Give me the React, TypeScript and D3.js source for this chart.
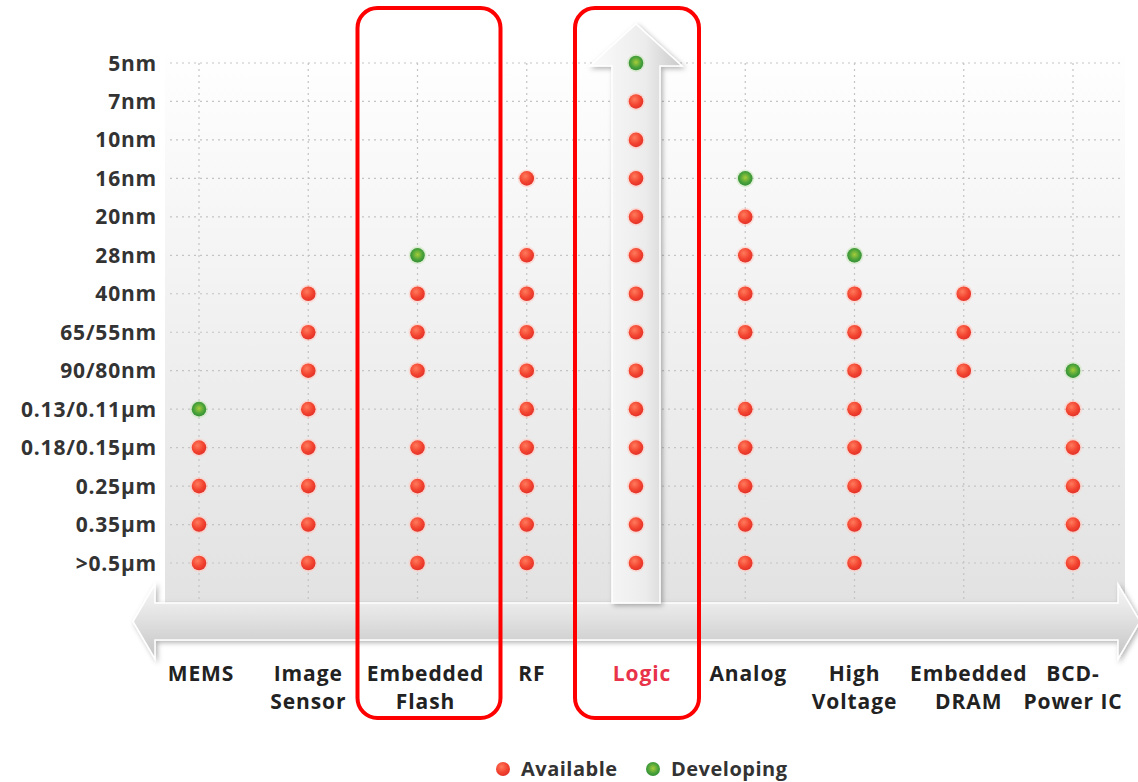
import React, { useEffect } from "react";
import * as d3 from "d3";

const categories = ["MEMS", "Image Sensor", "Embedded Flash", "RF", "Logic", "Analog", "High Voltage", "Embedded DRAM", "BCD-Power IC"];
const categoryLines = [["MEMS"], ["Image", "Sensor"], ["Embedded", "Flash"], ["RF"], ["Logic"], ["Analog"], ["High", "Voltage"], ["Embedded", "DRAM"], ["BCD-", "Power IC"]];
const nodes = ["5nm", "7nm", "10nm", "16nm", "20nm", "28nm", "40nm", "65/55nm", "90/80nm", "0.13/0.11µm", "0.18/0.15µm", "0.25µm", "0.35µm", ">0.5µm"];

// status per category: A = available, D = developing
const memsStatus = { "0.13/0.11µm": "D", "0.18/0.15µm": "A", "0.25µm": "A", "0.35µm": "A", ">0.5µm": "A" };
const imageSensorStatus = { "40nm": "A", "65/55nm": "A", "90/80nm": "A", "0.13/0.11µm": "A", "0.18/0.15µm": "A", "0.25µm": "A", "0.35µm": "A", ">0.5µm": "A" };
const flashStatus = { "28nm": "D", "40nm": "A", "65/55nm": "A", "90/80nm": "A", "0.18/0.15µm": "A", "0.25µm": "A", "0.35µm": "A", ">0.5µm": "A" };
const rfStatus = { "16nm": "A", "28nm": "A", "40nm": "A", "65/55nm": "A", "90/80nm": "A", "0.13/0.11µm": "A", "0.18/0.15µm": "A", "0.25µm": "A", "0.35µm": "A", ">0.5µm": "A" };
const logicStatus = { "5nm": "D", "7nm": "A", "10nm": "A", "16nm": "A", "20nm": "A", "28nm": "A", "40nm": "A", "65/55nm": "A", "90/80nm": "A", "0.13/0.11µm": "A", "0.18/0.15µm": "A", "0.25µm": "A", "0.35µm": "A", ">0.5µm": "A" };
const analogStatus = { "16nm": "D", "20nm": "A", "28nm": "A", "40nm": "A", "65/55nm": "A", "0.13/0.11µm": "A", "0.18/0.15µm": "A", "0.25µm": "A", "0.35µm": "A", ">0.5µm": "A" };
const highVoltageStatus = { "28nm": "D", "40nm": "A", "65/55nm": "A", "90/80nm": "A", "0.13/0.11µm": "A", "0.18/0.15µm": "A", "0.25µm": "A", "0.35µm": "A", ">0.5µm": "A" };
const dramStatus = { "40nm": "A", "65/55nm": "A", "90/80nm": "A" };
const bcdStatus = { "90/80nm": "D", "0.13/0.11µm": "A", "0.18/0.15µm": "A", "0.25µm": "A", "0.35µm": "A", ">0.5µm": "A" };
const statusByCategory = [memsStatus, imageSensorStatus, flashStatus, rfStatus, logicStatus, analogStatus, highVoltageStatus, dramStatus, bcdStatus];
const highlighted = ["Embedded Flash", "Logic"];
const legendItems = [{ key: "A", label: "Available" }, { key: "D", label: "Developing" }];

const W = 1138, H = 782;
const FONT = "'Open Sans', 'Noto Sans', sans-serif";

export default function App() {
  useEffect(() => { document.body.style.margin = "0"; }, []);
  const x = d3.scalePoint<string>().domain(categories).range([199, 1073]);
  const y = d3.scalePoint<string>().domain(nodes).range([63, 563]);
  const plotTop = 45, plotBottom = 605, plotLeft = 165, plotRight = 1125;

  const points: { c: string; n: string; s: string }[] = [];
  categories.forEach((c, i) => {
    const st = statusByCategory[i] as Record<string, string>;
    nodes.forEach(n => { if (st[n]) points.push({ c, n, s: st[n] }); });
  });

  const lx = x("Logic")!;
  const halfShaft = 24, headHalf = 46, tipY = 24, headBase = 66;
  const vArrow = d3.line()([
    [lx - halfShaft, 603], [lx - halfShaft, headBase], [lx - headHalf, headBase], [lx, tipY],
    [lx + headHalf, headBase], [lx + halfShaft, headBase], [lx + halfShaft, 603],
  ]) + "Z";

  const hy0 = 603, hy1 = 640, hmid = (hy0 + hy1) / 2;
  const hArrow = d3.line()([
    [133, hmid], [155, 584], [155, hy0], [1118, hy0], [1118, 584], [1140, hmid],
    [1118, 659], [1118, hy1], [155, hy1], [155, 659],
  ]) + "Z";

  // highlight boxes (left/right offsets from column centre)
  const boxOffsets: Record<string, [number, number]> = { "Embedded Flash": [-60, 83], "Logic": [-61, 63] };
  const labelNudge = [2, 0, 8, 5, 6, 3, 0, 5, 0];

  return (
    <svg width={W} height={H} style={{ display: "block", background: "#fff" }} fontFamily={FONT}>
      <defs>
        <linearGradient id="bg" x1="0" y1="0" x2="0" y2="1">
          <stop offset="0" stopColor="#ffffff" />
          <stop offset="1" stopColor="#e2e2e2" />
        </linearGradient>
        <linearGradient id="hArrowG" x1="0" y1="0" x2="0" y2="1">
          <stop offset="0" stopColor="#f7f7f7" />
          <stop offset="0.45" stopColor="#e2e2e2" />
          <stop offset="1" stopColor="#c4c4c4" />
        </linearGradient>
        <linearGradient id="vArrowG" x1="0" y1="0" x2="1" y2="0">
          <stop offset="0" stopColor="#fbfbfb" />
          <stop offset="0.6" stopColor="#ececec" />
          <stop offset="1" stopColor="#c9c9c9" />
        </linearGradient>
        <radialGradient id="redG" cx="0.4" cy="0.35" r="0.7">
          <stop offset="0" stopColor="#ff7a5c" />
          <stop offset="0.6" stopColor="#f2432f" />
          <stop offset="1" stopColor="#e0302a" />
        </radialGradient>
        <radialGradient id="greenG" cx="0.5" cy="0.45" r="0.6">
          <stop offset="0" stopColor="#a6cc3a" />
          <stop offset="0.6" stopColor="#4aa23a" />
          <stop offset="1" stopColor="#2d8a36" />
        </radialGradient>
        <filter id="shadow" x="-20%" y="-20%" width="140%" height="140%">
          <feDropShadow dx="2" dy="2" stdDeviation="2.5" floodColor="#000" floodOpacity="0.3" />
        </filter>
      </defs>

      <rect x={plotLeft} y={plotTop} width={plotRight - plotLeft} height={plotBottom - plotTop} fill="url(#bg)" />

      {nodes.map(n => (
        <line key={n} x1={170} x2={1120} y1={y(n)} y2={y(n)} stroke="#c4c4c4" strokeWidth={1.2} strokeDasharray="2,4" />
      ))}
      {categories.map(c => (
        <line key={c} x1={x(c)} x2={x(c)} y1={y(nodes[0])} y2={plotBottom} stroke="#c4c4c4" strokeWidth={1.2} strokeDasharray="2,4" />
      ))}

      <path d={hArrow} fill="url(#hArrowG)" stroke="#ffffff" strokeWidth={1.5} filter="url(#shadow)" />
      <path d={vArrow} fill="url(#vArrowG)" stroke="#ffffff" strokeWidth={1.5} filter="url(#shadow)" />

      {points.map((p, i) => (
        <g key={i}>
          <circle cx={x(p.c)} cy={y(p.n)} r={9} fill={p.s === "A" ? "#ffc8c0" : "#c8e6b8"} opacity={0.55} />
          <circle cx={x(p.c)} cy={y(p.n)} r={7.3} fill={p.s === "A" ? "url(#redG)" : "url(#greenG)"} />
        </g>
      ))}

      {nodes.map(n => (
        <text key={n} x={157} y={y(n)} dy="0.36em" textAnchor="end" fontSize={21} fontWeight={700} fill="#333" letterSpacing={0.8}>{n}</text>
      ))}

      {categories.map((c, i) => {
        const cx = x(c)! + labelNudge[i];
        return (
          <text key={c} x={cx} y={681} textAnchor="middle" fontSize={21} fontWeight={700} fill={c === "Logic" ? "#e8334a" : "#222"} letterSpacing={0.9}>
            {categoryLines[i].map((l, j) => (
              <tspan key={j} x={cx} dy={j === 0 ? 0 : 28}>{l}</tspan>
            ))}
          </text>
        );
      })}

      {highlighted.map(c => {
        const [l, r] = boxOffsets[c];
        return <rect key={c} x={x(c)! + l} y={8} width={r - l} height={710} rx={20} fill="none" stroke="#ff0000" strokeWidth={4} />;
      })}

      {legendItems.map((it, i) => {
        const cx = i === 0 ? 503 : 653;
        return (
          <g key={it.key}>
            <circle cx={cx} cy={769} r={7} fill={it.key === "A" ? "url(#redG)" : "url(#greenG)"} />
            <text x={cx + 18} y={769} dy="0.36em" fontSize={20} fontWeight={700} fill="#333" letterSpacing={0.5}>{it.label}</text>
          </g>
        );
      })}
    </svg>
  );
}
